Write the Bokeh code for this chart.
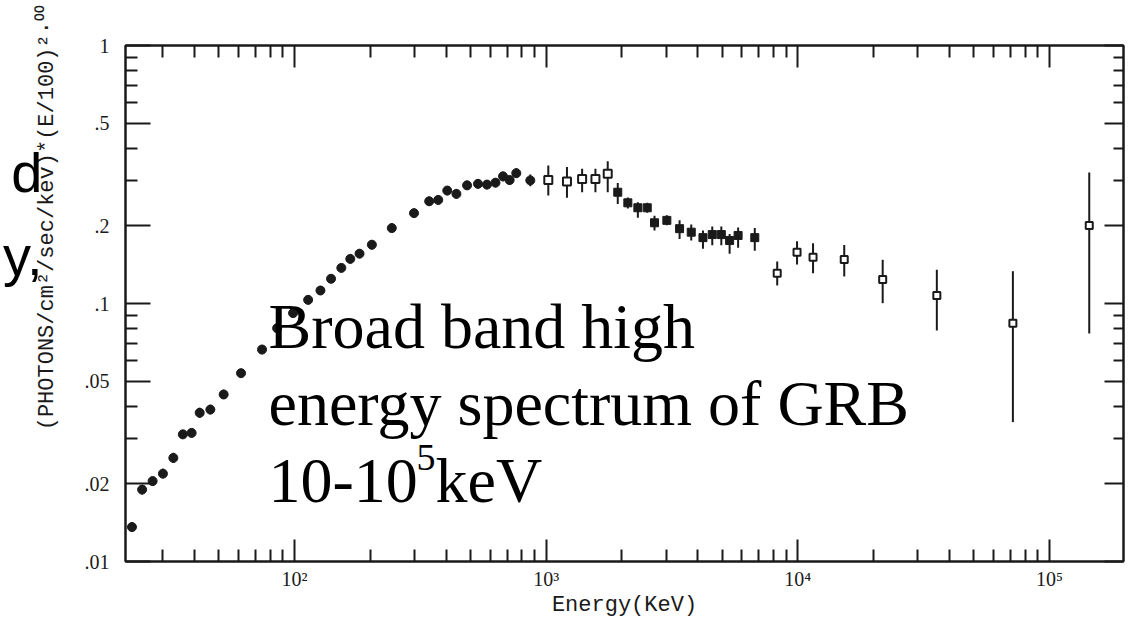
import math
from bokeh.plotting import figure
from bokeh.models import (LogAxis, FixedTicker, Label, Range1d, ColumnDataSource,
                          CustomLabelingPolicy)
from bokeh.embed import file_html
from bokeh.resources import INLINE

# ---- data ----
energy_kev = [22.6, 24.8, 27.3, 30.0, 33.0, 36.0, 39.0, 42.0, 46.3, 52.3,
              61.3, 74.3, 85.3, 98.7, 113.3, 126.8, 139.7, 153.5, 166.6, 181.3,
              203, 243.6, 298.5, 343, 372.6, 404.6, 440, 485, 536, 582,
              629, 674, 716, 761, 865, 1020, 1210, 1390, 1570, 1757,
              1926, 2112, 2315, 2522, 2696, 3018, 3391, 3773, 4200, 4573,
              4968, 5360, 5793, 6748, 8285, 9933, 11500, 15300, 21750, 35700,
              71600, 144000]
flux = [0.0136, 0.0190, 0.0205, 0.0219, 0.0252, 0.0311, 0.0315, 0.0377, 0.0388, 0.0444,
        0.0537, 0.0663, 0.0802, 0.0918, 0.1033, 0.1123, 0.1247, 0.1374, 0.1489, 0.156,
        0.169, 0.196, 0.224, 0.249, 0.252, 0.274, 0.266, 0.287, 0.291, 0.289,
        0.294, 0.311, 0.301, 0.320, 0.300, 0.301, 0.297, 0.304, 0.304, 0.318,
        0.270, 0.2456, 0.235, 0.235, 0.2055, 0.210, 0.195, 0.189, 0.180, 0.185,
        0.185, 0.1755, 0.1835, 0.180, 0.131, 0.158, 0.151, 0.148, 0.124, 0.1074,
        0.0839, 0.2006]
flux_lo = [0.0130, 0.0182, 0.0197, 0.0210, 0.0241, 0.0299, 0.0303, 0.0361, 0.0372, 0.0426,
           0.0517, 0.0636, 0.0770, 0.0882, 0.0992, 0.1080, 0.1200, 0.1322, 0.1432, 0.150,
           0.162, 0.189, 0.215, 0.239, 0.242, 0.263, 0.255, 0.276, 0.279, 0.277,
           0.282, 0.298, 0.289, 0.307, 0.285, 0.262, 0.257, 0.270, 0.270, 0.270,
           0.243, 0.2335, 0.215, 0.225, 0.192, 0.201, 0.178, 0.1755, 0.163, 0.168,
           0.168, 0.156, 0.1644, 0.160, 0.1175, 0.1416, 0.131, 0.1273, 0.1003, 0.0786,
           0.0347, 0.0765]
flux_hi = [0.0142, 0.0198, 0.0213, 0.0229, 0.0264, 0.0323, 0.0327, 0.0394, 0.0405, 0.0463,
           0.0557, 0.0691, 0.0835, 0.0955, 0.1075, 0.1167, 0.1295, 0.1427, 0.1548, 0.162,
           0.176, 0.204, 0.233, 0.259, 0.262, 0.285, 0.277, 0.299, 0.303, 0.301,
           0.306, 0.324, 0.313, 0.334, 0.316, 0.343, 0.338, 0.333, 0.333, 0.356,
           0.293, 0.2575, 0.247, 0.246, 0.219, 0.220, 0.210, 0.2025, 0.192, 0.199,
           0.199, 0.186, 0.197, 0.196, 0.1455, 0.1743, 0.1714, 0.1687, 0.1477, 0.1351,
           0.1334, 0.322]

x_major = [1e2, 1e3, 1e4, 1e5]
x_labels = ["10\u00b2", "10\u00b3", "10\u2074", "10\u2075"]
x_minor = [30, 40, 50, 60, 70, 80, 90,
           200, 300, 400, 500, 600, 700, 800, 900,
           2000, 3000, 4000, 5000, 6000, 7000, 8000, 9000,
           20000, 30000, 40000, 50000, 60000, 70000, 80000, 90000]
y_major = [0.01, 0.02, 0.05, 0.1, 0.2, 0.5, 1]
y_labels = [".01", ".02", ".05", ".1", ".2", ".5", "1"]
y_minor = [0.03, 0.04, 0.06, 0.07, 0.08, 0.09, 0.3, 0.4, 0.6, 0.7, 0.8, 0.9]

x_title = "Energy(KeV)"
y_title = "(PHOTONS/cm\u00b2/sec/kev)*(E/100)\u00b2\u00b7\u2070\u2070"
fragment_texts = ["d", "y,"]   # cropped slide text at the far left edge

INK = "#1a1a1a"

p = figure(width=1128, height=621, x_axis_type="log", y_axis_type="log",
           x_range=Range1d(21.3, 1.97e5), y_range=Range1d(0.01, 1.0),
           output_backend="svg", toolbar_location=None,
           min_border_left=125, min_border_right=5, min_border_top=45,
           min_border_bottom=60)
p.grid.visible = False
p.outline_line_color = INK
p.outline_line_width = 2
p.background_fill_color = "white"
p.border_fill_color = "white"

hide_all = CustomLabelingPolicy(code="""
for (const i of indices) { indices.unset(i) }
return indices
""")

def style_axis(ax, major, minor, labels, show_labels, major_len, minor_len):
    ax.ticker = FixedTicker(ticks=major, minor_ticks=minor)
    ax.major_label_overrides = {v: s for v, s in zip(major, labels)}
    ax.axis_line_color = INK
    ax.axis_line_width = 2
    ax.major_tick_line_color = INK
    ax.major_tick_line_width = 2
    ax.minor_tick_line_color = INK
    ax.minor_tick_line_width = 2
    ax.major_tick_in = major_len
    ax.major_tick_out = 0
    ax.minor_tick_in = minor_len
    ax.minor_tick_out = 0
    ax.major_label_text_font = "Liberation Serif"
    ax.major_label_text_color = INK
    if show_labels:
        ax.major_label_text_font_size = "20px"
    else:
        ax.major_label_text_font_size = "1px"
        ax.major_label_standoff = 0
        ax.major_label_policy = hide_all

bx = p.xaxis[0]
style_axis(bx, x_major, x_minor, x_labels, True, 22, 12)
bx.major_label_standoff = 6
bx.axis_label = x_title
bx.axis_label_text_font = "Liberation Mono"
bx.axis_label_text_font_size = "22px"
bx.axis_label_text_font_style = "normal"
bx.axis_label_text_color = INK
bx.axis_label_standoff = 0

ly = p.yaxis[0]
style_axis(ly, y_major, y_minor, y_labels, True, 25, 12)
ly.major_label_standoff = 16
# title sits above the frame centre in the reference: lead with no-break spaces
ly.axis_label = "\u00a0" * 13 + y_title
ly.axis_label_text_font = "Liberation Mono"
ly.axis_label_text_font_size = "22px"
ly.axis_label_text_font_style = "normal"
ly.axis_label_text_color = INK
ly.axis_label_standoff = 22

tx = LogAxis()
style_axis(tx, x_major, x_minor, x_labels, False, 22, 12)
p.add_layout(tx, "above")
ry = LogAxis()
style_axis(ry, y_major, y_minor, y_labels, False, 19, 10)
p.add_layout(ry, "right")

# outermost left axis: carries only the two cropped text fragments
frag_at = [0.322, 0.1535]
frag = LogAxis(ticker=FixedTicker(ticks=frag_at, minor_ticks=[]),
               major_label_overrides={v: s for v, s in zip(frag_at, fragment_texts)},
               axis_line_color=None, major_tick_line_color=None,
               minor_tick_line_color=None, major_tick_in=0, major_tick_out=0,
               minor_tick_in=0, minor_tick_out=0,
               major_label_text_font="Liberation Sans",
               major_label_text_font_size="56px", major_label_text_color="black",
               major_label_standoff=-11)
p.add_layout(frag, "left")

src = ColumnDataSource(dict(e=energy_kev, f=flux, lo=flux_lo, hi=flux_hi))
p.segment(x0="e", y0="lo", x1="e", y1="hi", source=src, line_color=INK, line_width=2)

lowE = ColumnDataSource(dict(e=energy_kev[:35], f=flux[:35]))
midA = ColumnDataSource(dict(e=energy_kev[35:40], f=flux[35:40]))
midB = ColumnDataSource(dict(e=energy_kev[40:54], f=flux[40:54]))
hiE = ColumnDataSource(dict(e=energy_kev[54:], f=flux[54:]))
p.scatter("e", "f", source=lowE, marker="circle", size=9, fill_color=INK, line_color=INK)
p.scatter("e", "f", source=midA, marker="square", size=8, fill_color="white",
          line_color=INK, line_width=2)
p.scatter("e", "f", source=midB, marker="square", size=8, fill_color=INK, line_color=INK)
p.scatter("e", "f", source=hiE, marker="square", size=7, fill_color="white",
          line_color=INK, line_width=2)

# overlay slide text
serif = "Liberation Serif"
for txt, yy in [("Broad band high", 235), ("energy spectrum of GRB", 158)]:
    p.add_layout(Label(x=143, y=yy, x_units="screen", y_units="screen", text=txt,
                       text_font=serif, text_font_size="64px", text_color="black",
                       text_baseline="alphabetic", text_align="left"))
p.add_layout(Label(x=143, y=81, x_units="screen", y_units="screen", text="10-10",
                   text_font=serif, text_font_size="64px", text_color="black",
                   text_baseline="alphabetic", text_align="left"))
p.add_layout(Label(x=291, y=104, x_units="screen", y_units="screen", text="5",
                   text_font=serif, text_font_size="38px", text_color="black",
                   text_baseline="alphabetic", text_align="left"))
p.add_layout(Label(x=310, y=81, x_units="screen", y_units="screen", text="keV",
                   text_font=serif, text_font_size="64px", text_color="black",
                   text_baseline="alphabetic", text_align="left"))

open("out.html", "w").write(file_html(p, INLINE))
